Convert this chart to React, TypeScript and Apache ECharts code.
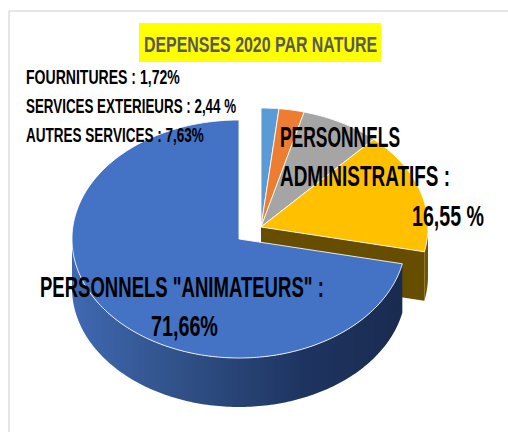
import React, { useEffect, useRef } from "react";
import * as echarts from "echarts";

const titleText = "DEPENSES 2020 PAR NATURE";
const categories = ["FOURNITURES", "SERVICES EXTERIEURS", "AUTRES SERVICES", "PERSONNELS ADMINISTRATIFS", 'PERSONNELS "ANIMATEURS"'];
const shares = [1.72, 2.44, 7.63, 16.55, 71.66];
const topColors = ["#5B9BD5", "#ED7D31", "#A5A5A5", "#FFC000", "#4472C4"];
const sideColors = ["#34597a", "#8a4a1c", "#5f5f5f", "#664d00", "#1b2d52"];
const smallLabels = ["FOURNITURES : 1,72%", "SERVICES EXTERIEURS : 2,44 %", "AUTRES SERVICES : 7,63%"];
const adminLabels = ["PERSONNELS", "ADMINISTRATIFS :", "16,55 %"];
const animLabels = ['PERSONNELS "ANIMATEURS" :', "71,66%"];

const FONT = '"Liberation Sans", sans-serif';
const RX = 167;
const RY = 119;
const DEPTH = 49;
const MAIN = { x: 239, y: 239 };
const EXPLODED = { x: 261, y: 227 };

const rad = (d: number) => (d * Math.PI) / 180;
const at = (c: { x: number; y: number }, deg: number, dy = 0): number[] => [
  c.x + RX * Math.sin(rad(deg)),
  c.y - RY * Math.cos(rad(deg)) + dy,
];
const arc = (c: { x: number; y: number }, a: number, b: number, dy = 0): number[][] => {
  const pts: number[][] = [];
  const n = Math.max(2, Math.ceil(Math.abs(b - a)));
  for (let i = 0; i <= n; i++) pts.push(at(c, a + ((b - a) * i) / n, dy));
  return pts;
};

function renderItem(params: any) {
  const i = params.dataIndex;
  const before = shares.slice(0, i).reduce((s, v) => s + v, 0);
  const total = shares.reduce((s, v) => s + v, 0);
  const start = (before / total) * 360;
  const end = ((before + shares[i]) / total) * 360;
  const isMain = i === shares.length - 1;
  const c = isMain ? MAIN : EXPLODED;
  const children: any[] = [];

  if (isMain) {
    const front = [...arc(c, start, 270), ...arc(c, 270, start, DEPTH)];
    children.push({
      type: "polygon",
      shape: { points: front },
      style: {
        fill: new echarts.graphic.LinearGradient(1, 0, 0, 0, [
          { offset: 0, color: "#1a2b50" },
          { offset: 0.3, color: "#1e3460" },
          { offset: 0.65, color: "#2f4f85" },
          { offset: 1, color: "#4069b2" },
        ]),
      },
    });
  } else if (end > 90) {
    const cut = at(c, end);
    const cutLow = at(c, end, DEPTH);
    children.push({
      type: "polygon",
      shape: { points: [[c.x, c.y], cut, cutLow, [c.x, c.y + DEPTH]] },
      style: { fill: sideColors[i] },
    });
    children.push({
      type: "polygon",
      shape: { points: [...arc(c, 90, end), ...arc(c, end, 90, DEPTH)] },
      style: { fill: "#705500" },
    });
  }

  children.push({
    type: "polygon",
    shape: { points: [[c.x, c.y], ...arc(c, start, end)] },
    style: { fill: topColors[i], stroke: "rgba(255,255,255,0.85)", lineWidth: 1 },
  });
  return { type: "group", children };
}

const measureCtx = document.createElement("canvas").getContext("2d")!;

// Horizontally condensed text, fitted between the left and right limits seen in the picture.
const textEl = (text: string, left: number, right: number, y: number, size: number, fill = "#000") => {
  const font = `bold ${size}px ${FONT}`;
  measureCtx.font = font;
  const natural = measureCtx.measureText(text).width;
  return {
    type: "text",
    x: left,
    y,
    scaleX: (right - left) / natural,
    z: 10,
    style: { text, fill, font, align: "left", verticalAlign: "middle" },
  };
};

export default function App() {
  const ref = useRef<HTMLDivElement>(null);
  useEffect(() => {
    const chart = echarts.init(ref.current!, null, { renderer: "svg", width: 508, height: 432 });
    chart.setOption({
      animation: false,
      backgroundColor: "#fff",
      series: [
        {
          type: "custom",
          coordinateSystem: "none",
          silent: true,
          renderItem,
          data: categories.map((name, i) => ({ name, value: shares[i] })),
        },
      ],
      graphic: {
        elements: [
          { type: "line", shape: { x1: 9, y1: 11, x2: 508, y2: 11 }, style: { stroke: "#dedede", lineWidth: 1.5 } },
          { type: "line", shape: { x1: 9, y1: 11, x2: 9, y2: 432 }, style: { stroke: "#dedede", lineWidth: 1.5 } },
          { type: "rect", shape: { x: 139, y: 23, width: 242, height: 39 }, style: { fill: "#FFFF00" } },
          textEl(titleText, 144, 377, 44, 22.5, "#595959"),
          textEl(smallLabels[0], 26, 180, 78, 19.5),
          textEl(smallLabels[1], 26, 236, 107, 19.5),
          textEl(smallLabels[2], 26, 204, 136, 19.5),
          textEl(adminLabels[0], 280, 400, 137, 30),
          textEl(adminLabels[1], 280, 450, 175, 30),
          textEl(adminLabels[2], 412, 484, 215, 30),
          textEl(animLabels[0], 40, 324, 286, 30),
          textEl(animLabels[1], 151, 218, 325, 30),
        ],
      },
    });
    return () => chart.dispose();
  }, []);
  return <div ref={ref} style={{ position: "absolute", left: 0, top: 0, width: 508, height: 432 }} />;
}
